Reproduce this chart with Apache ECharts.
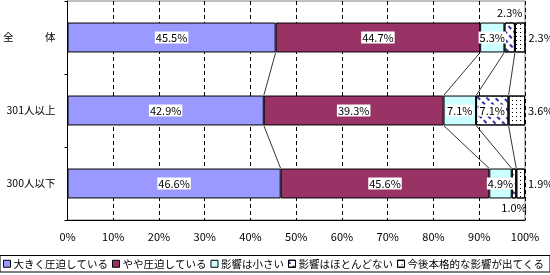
<!DOCTYPE html>
<html><head><meta charset="utf-8">
<script src="https://cdn.jsdelivr.net/npm/echarts@6/dist/echarts.min.js"></script>
<style>html,body{margin:0;padding:0;background:#fff}#c{width:550px;height:275px}</style>
</head><body><div id="c"></div>
<script>
const categories = ['全　　　体', '301人以上', '300人以下'];
const seriesNames = ['大きく圧迫している', 'やや圧迫している', '影響は小さい', '影響はほとんどない', '今後本格的な影響が出てくる'];
const s1 = [45.5, 42.9, 46.6];
const s2 = [44.7, 39.3, 45.6];
const s3 = [5.3, 7.1, 4.9];
const s4 = [2.3, 7.1, 1.0];
const s5 = [2.3, 3.6, 1.9];
const xTicks = [0, 10, 20, 30, 40, 50, 60, 70, 80, 90, 100];

const all = [s1, s2, s3, s4, s5];
const FONT = '"Noto Sans CJK JP", sans-serif';
const lbl = {
  show: true, position: 'inside', color: '#000', fontSize: 11, fontFamily: FONT,
  backgroundColor: '#fff', padding: [1, 1, 0, 1],
  formatter: p => p.value.toFixed(1) + '%'
};
const styles = [
  { color: '#9999FF' },
  { color: '#993366' },
  { color: '#CCFFFF' },
  { color: '#FFFFFF', decal: { symbol: 'rect', symbolSize: 1, color: '#333399', dashArrayX: [[4, 3]], dashArrayY: [2, 4], rotation: Math.PI / 4 } },
  { color: '#FFFFFF', decal: { symbol: 'rect', symbolSize: 1, color: '#000000', dashArrayX: [[1, 3]], dashArrayY: [1, 3], rotation: 0 } }
];
function labelFor(si, ci) {
  if (si === 4) return { position: 'right', distance: 2, backgroundColor: 'transparent' };
  if (si === 3 && ci === 0) return { position: 'top', distance: 4, backgroundColor: 'transparent' };
  if (si === 3 && ci === 2) return { position: 'bottom', distance: 3, backgroundColor: 'transparent' };
  return {};
}
const barSeries = all.map((arr, si) => ({
  name: seriesNames[si], type: 'bar', stack: 'a', barWidth: '41%',
  itemStyle: Object.assign({ borderColor: '#000', borderWidth: 1 }, styles[si]),
  label: lbl,
  data: arr.map((v, ci) => ({ value: v, label: labelFor(si, ci) })),
  z: 3
}));

const cum = categories.map((c, ci) => { let s = 0; return all.map(a => (s += a[ci])); });
const lineData = [];
for (let ci = 0; ci < categories.length - 1; ci++) {
  for (let b = 0; b < 4; b++) lineData.push([cum[ci][b], ci, cum[ci + 1][b], ci + 1]);
}
const lineSeries = {
  type: 'custom', silent: true, z: 2,
  encode: { x: [0, 2], y: [1, 3] },
  renderItem: (params, api) => {
    const p1 = api.coord([api.value(0), api.value(1)]);
    const p2 = api.coord([api.value(2), api.value(3)]);
    const half = api.size([0, 1])[1] * 0.41 / 2;
    return { type: 'line', shape: { x1: p1[0], y1: p1[1] + half, x2: p2[0], y2: p2[1] - half },
      style: { stroke: '#000', lineWidth: 0.8 } };
  },
  data: lineData
};

const chart = echarts.init(document.getElementById('c'), null, { renderer: 'canvas' });
chart.setOption({
  animation: false,
  grid: { left: 67, right: 25, top: 1, bottom: 55, show: true, borderColor: '#808080', borderWidth: 1 },
  xAxis: {
    type: 'value', min: 0, max: 100, interval: 10,
    axisLine: { show: true, lineStyle: { color: '#000' } },
    axisTick: { show: false },
    axisLabel: { color: '#000', fontSize: 11, fontFamily: FONT, margin: 11, formatter: v => xTicks.includes(v) ? v + '%' : '' },
    splitLine: { show: true, lineStyle: { color: '#000', type: [4, 3], width: 1 } }
  },
  yAxis: {
    type: 'category', inverse: true, data: categories,
    axisLine: { show: true, lineStyle: { color: '#000' } },
    axisTick: { show: true, length: 3, lineStyle: { color: '#000' } },
    axisLabel: { color: '#000', fontSize: 10.5, fontFamily: FONT, margin: 12 }
  },
  legend: {
    left: 0, bottom: 3, width: 548, data: seriesNames, itemWidth: 7, itemHeight: 7, itemGap: 4,
    icon: 'rect', borderColor: '#000', borderWidth: 1, padding: [3, 6, 3, 3],
    itemStyle: { borderColor: '#000', borderWidth: 1 },
    textStyle: { color: '#000', fontSize: 10.5, fontFamily: FONT, padding: [0, 0, 0, -2] }
  },
  series: barSeries.concat([lineSeries])
});
</script></body></html>
